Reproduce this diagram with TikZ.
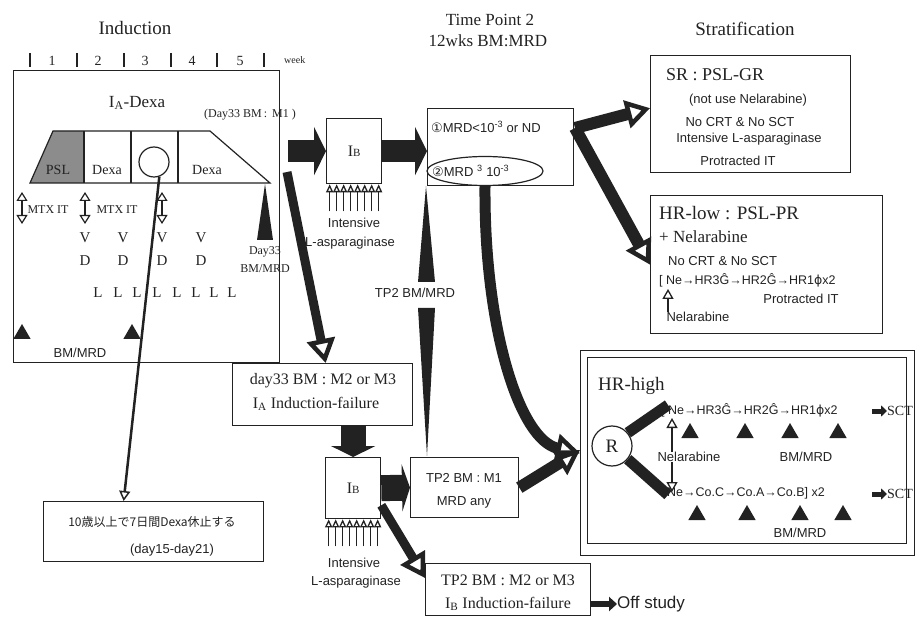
\documentclass[tikz,border=0pt]{standalone}
\usepackage{fontspec}
\setmainfont{Liberation Serif}
\setsansfont{Liberation Sans}
\newfontfamily\jpfont{Noto Sans CJK JP}
\newfontfamily\symfont{DejaVu Sans}
\usetikzlibrary{positioning, arrows.meta, calc, shapes.geometric}
\definecolor{Ink}{HTML}{222222}
\definecolor{PSL_Gray}{HTML}{8C8C8C}
\newcommand{\fsz}[1]{\fontsize{#1}{#1}\selectfont}

\begin{document}
\begin{tikzpicture}[
  x=1pt, y=-1pt,
  every node/.style={text=Ink, inner sep=0pt},
  ttl/.style={font=\fsz{19}},
  srf/.style={font=\fsz{16}},
  sns/.style={font=\sffamily\fsz{13}},
  box/.style={draw=Ink, line width=1.3pt, anchor=north west},
  bmtri/.style={regular polygon, regular polygon sides=3, fill=Ink, minimum size=20pt},
  blockarr/.style={Ink, line width=22pt, -{Triangle[length=12pt, width=48pt]}},
  fatarr/.style={Ink, line width=10pt, -{Triangle[open, length=24pt, width=28pt, line width=4.5pt]}},
  thinarr/.style={Ink, line width=2.5pt, -{Triangle[open, length=10pt, width=11pt, line width=1.5pt]}},
  nelarr/.style={Ink, line width=1.3pt, -{Triangle[open, length=10pt, width=11pt]}},
  asparr/.style={Ink, line width=1.3pt, -{Triangle[open, length=8pt, width=7pt]}},
  mtxarr/.style={Ink, line width=1.2pt, {Triangle[open, length=9pt, width=11pt]}-{Triangle[open, length=9pt, width=11pt]}},
  smallarr/.style={Ink, line width=5pt, -{Triangle[length=6pt, width=11pt]}}
]
  \useasboundingbox (0,0) rectangle (923,617);

  % Headings
  \node[ttl] (hind) at (135,28) {Induction};
  \node[font=\fsz{17}] (htpa) at (490,20) {Time Point 2};
  \node[font=\fsz{17}] (htpb) at (488,41) {12wks BM:MRD};
  \node[ttl] (hstr) at (745,29) {Stratification};

  % Induction block
  \node[box, minimum width=266pt, minimum height=292pt] (indbox) at (13,70) {};
  \foreach \x in {30,77,124,171,217,264}
    \draw[Ink, line width=1.2pt] (\x,53) -- (\x,67);
  \foreach \w [count=\i] in {52,98,145,192,240}
    \node[font=\fsz{14}] (wk\i) at (\w,61) {\i};
  \node[font=\fsz{10}, anchor=west] (wklab) at (284,60) {week};
  \node[font=\fsz{17}] (ia) at (137,103) {I\textsubscript{A}-Dexa};
  \node[font=\fsz{12}, anchor=west] (dmone) at (204,115) {(Day33 BM\,:\, M1 )};

  % PSL / Dexa trapezoid
  \fill[PSL_Gray] (30,183) -- (53,131) -- (84,131) -- (84,183) -- cycle;
  \draw[Ink, line width=1.2pt] (30,183) -- (53,131) -- (210,131) -- (270,183) -- cycle;
  \foreach \x in {84,131,178}
    \draw[Ink, line width=1.2pt] (\x,131) -- (\x,183);
  \node[circle, draw=Ink, line width=1.2pt, minimum size=30pt] (dexcirc) at (154,162) {};
  \node[font=\fsz{14}] (psl) at (58,170) {PSL};
  \node[font=\fsz{14}] (dexa) at (107,170) {Dexa};
  \node[font=\fsz{14}] (dexb) at (207,170) {Dexa};

  % Day33 marker
  \fill[Ink] (257,240) -- (265,184) -- (273,240) -- cycle;
  \node[font=\fsz{12}] (dtt) at (265,252) {Day33};
  \node[font=\fsz{12}] (dtb) at (265,269) {BM/MRD};

  % MTX IT, V, D, L
  \draw[mtxarr] (22,192) -- (22,224);
  \draw[mtxarr] (85,192) -- (85,224);
  \draw[mtxarr] (162,192) -- (162,224);
  \node[font=\fsz{12}] (mtxa) at (48,210) {MTX IT};
  \node[font=\fsz{12}] (mtxb) at (117,210) {MTX IT};
  \foreach \x [count=\i] in {85,123,162,201} {
    \node[font=\fsz{15}] (v\i) at (\x,238) {V};
    \node[font=\fsz{15}] (d\i) at (\x,261) {D};
  }
  \foreach \x [count=\i] in {98,118,137,157,177,196,214,232}
    \node[font=\fsz{15}] (l\i) at (\x,293) {L};
  \node[bmtri] (bma) at (22,334) {};
  \node[bmtri] (bmb) at (132,334) {};
  \node[sns] (bmlab) at (80,353) {BM/MRD};

  % Dexa stop note
  \node[box, minimum width=220pt, minimum height=60pt] (jpbox) at (43,501) {};
  \node[font=\jpfont\fsz{12}] (jpa) at (152,522) {10歳以上で7日間Dexa休止する};
  \node[sns] (jpb) at (172,550) {(day15-day21)};
  \draw[thinarr] (dexcirc.-70) -- ([xshift=-30pt]jpbox.north);

  % I_B after I_A
  \node[box, minimum width=55pt, minimum height=65pt] (ibone) at (326,118) {};
  \node[font=\fsz{16}] (ibonel) at (ibone) {I{\fsz{11}B}};
  \foreach \i in {0,...,7}
    \draw[asparr] ([xshift=\i*7pt-24.5pt, yshift=-27pt]ibone.south) -- ([xshift=\i*7pt-24.5pt]ibone.south);
  \node[sns] (ibonea) at (354,223) {Intensive};
  \node[sns] (iboneb) at (350,243) {L-asparaginase};
  \draw[blockarr] ($(indbox.east |- ibone.west)+(8,0)$) -- (ibone.west);

  % Time point 2 result
  \node[box, minimum width=146pt, minimum height=77pt] (tptwo) at (427,108) {};
  \node[sns, anchor=west] (mrdlow) at (431,127) {{\symfont ①}MRD<10\textsuperscript{-3} or ND};
  \node[sns, anchor=west] (mrdhigh) at (432,171) {{\symfont ②}MRD \textsuperscript{3} 10\textsuperscript{-3}};
  \node[ellipse, draw=Ink, line width=1.2pt, minimum width=116pt, minimum height=29pt] (ell) at (485,171) {};
  \draw[blockarr] (ibone.east) -- (ibone.east -| tptwo.west);

  % TP2 BM/MRD wedge
  \fill[Ink] (426,186) -- (435,282) -- (418,282) -- cycle;
  \node[sns] (tpbm) at (415,293) {TP2 BM/MRD};
  \fill[Ink] (418,308) -- (435,308) -- (427,456) -- cycle;

  % Induction failure path
  \node[box, minimum width=180pt, minimum height=62pt] (dfail) at (232,363) {};
  \node[srf] (dfaila) at (323,381) {day33 BM : M2 or M3};
  \node[srf] (dfailb) at (316,404) {I\textsubscript{A} Induction-failure};
  \coordinate (dstart) at (287,172);
  \draw[fatarr, line width=9pt] (dstart) -- ([xshift=3pt]dfail.north);

  \node[box, minimum width=55pt, minimum height=61pt] (ibtwo) at (325,457) {};
  \node[font=\fsz{16}] (ibtwol) at (ibtwo) {I{\fsz{11}B}};
  \foreach \i in {0,...,7}
    \draw[asparr] ([xshift=\i*7pt-24.5pt, yshift=-27pt]ibtwo.south) -- ([xshift=\i*7pt-24.5pt]ibtwo.south);
  \node[sns] (ibtwoa) at (354,563) {Intensive};
  \node[sns] (ibtwob) at (356,582) {L-asparaginase};
  \draw[Ink, line width=25pt, -{Triangle[length=11pt, width=44pt]}] (ibtwo.north |- dfail.south) -- (ibtwo.north);

  \node[box, minimum width=108pt, minimum height=60pt] (tpmone) at (410,457) {};
  \node[sns] (tpmonea) at (464,478) {TP2 BM : M1};
  \node[sns] (tpmoneb) at (464,502) {MRD any};
  \draw[Ink, line width=26pt, -{Triangle[length=8pt, width=47pt]}] (ibtwo.east) -- (tpmone.west);

  \node[box, minimum width=165pt, minimum height=52pt] (tpfail) at (425,563) {};
  \node[srf] (tpfaila) at (508,580) {TP2 BM : M2 or M3};
  \node[srf] (tpfailb) at (508,604) {I\textsubscript{B} Induction-failure};
  \draw[fatarr, line width=9pt] ([yshift=14pt]ibtwo.south east) -- ([yshift=-15pt]tpfail.north west);
  \node[font=\sffamily\fsz{17}, anchor=west] (offst) at (617,604) {Off study};
  \draw[Ink, line width=6pt, -{Triangle[length=8pt, width=14pt]}] (offst.west -| tpfail.east) -- (offst.west);

  % SR
  \node[box, minimum width=200pt, minimum height=117pt] (srbox) at (650,55) {};
  \node[font=\fsz{18}, anchor=west] (srt) at (666,75) {SR : PSL-GR};
  \node[sns] (sra) at (748,100) {(not use Nelarabine)};
  \node[sns] (srb) at (740,122) {No CRT \& No SCT};
  \node[sns] (src) at (749,139) {Intensive L-asparaginase};
  \node[sns] (srd) at (738,161) {Protracted IT};

  % HR-low
  \node[box, minimum width=232pt, minimum height=138pt] (hrlow) at (650,195) {};
  \node[ttl, anchor=west] (hrlt) at (659,213) {HR-low : PSL-PR};
  \node[font=\fsz{17}, anchor=west] (hrla) at (659,237) {+ Nelarabine};
  \node[sns, anchor=west] (hrlb) at (668,261) {No CRT \& No SCT};
  \node[font=\sffamily\fsz{12.5}, anchor=west] (hrlc) at (659,280) {[ Ne→HR3Ĝ→HR2Ĝ→HR1{\symfont ɸ}x2};
  \node[sns] (hrld) at (801,299) {Protracted IT};
  \node[sns] (hrle) at (698,317) {Nelarabine};
  \draw[nelarr] ([xshift=-30pt]hrle.north) -- ([xshift=-30pt, yshift=-2pt]hrle.north |- hrlc.south);

  % TP2 to stratification
  \coordinate (fork) at (575,128);
  \draw[fatarr, line width=12pt] (fork) -- ([yshift=6pt]srbox.west);
  \draw[fatarr, line width=12pt] (fork) -- (hrlow.west);

  % HR-high
  \node[box, minimum width=334pt, minimum height=205pt] (hrhigh) at (580,350) {};
  \node[box, minimum width=319pt, minimum height=186pt] (hrhighin) at (587,357) {};
  \node[ttl, anchor=west] (hrht) at (598,386) {HR-high};
  \node[circle, draw=Ink, line width=1.2pt, minimum size=40pt, font=\fsz{19}] (rnode) at (612,446) {R};
  \node[font=\sffamily\fsz{12.5}, anchor=west] (hrha) at (661,410) {[ Ne→HR3Ĝ→HR2Ĝ→HR1{\symfont ɸ}x2};
  \node[font=\sffamily\fsz{12.5}, anchor=west] (hrhb) at (667,493) {Ne→Co.C→Co.A→Co.B] x2};
  \node[font=\fsz{14}, anchor=west] (scta) at (887,411) {SCT};
  \node[font=\fsz{14}, anchor=west] (sctb) at (887,494) {SCT};
  \draw[smallarr] ([xshift=-15pt]scta.west) -- (scta.west);
  \draw[smallarr] ([xshift=-15pt]sctb.west) -- (sctb.west);
  \coordinate (upend) at (668,405);
  \coordinate (loend) at (668,495);
  \draw[Ink, line width=11pt] (rnode.40) -- (upend);
  \draw[Ink, line width=11pt] (rnode.-40) -- (loend);
  \node[sns] (hrhc) at (689,457) {Nelarabine};
  \node[sns] (hrhd) at (806,457) {BM/MRD};
  \node[sns] (hrhe) at (800,533) {BM/MRD};
  \draw[nelarr] (hrhc.north -| 672,0) -- (672,418);
  \draw[nelarr] (hrhc.south -| 672,0) -- (672,492);
  \foreach \x in {690,745,790,838}
    \node[bmtri] at (\x,433) {};
  \foreach \x in {697,747,800,843}
    \node[bmtri] at (\x,515) {};

  % Into HR-high
  \draw[fatarr, line width=11pt] (ell.south) .. controls (484,330) and (520,440) .. (hrhigh.west);
  \draw[fatarr, line width=12pt] (tpmone.east) -- ([yshift=3pt]hrhigh.west);
\end{tikzpicture}
\end{document}
